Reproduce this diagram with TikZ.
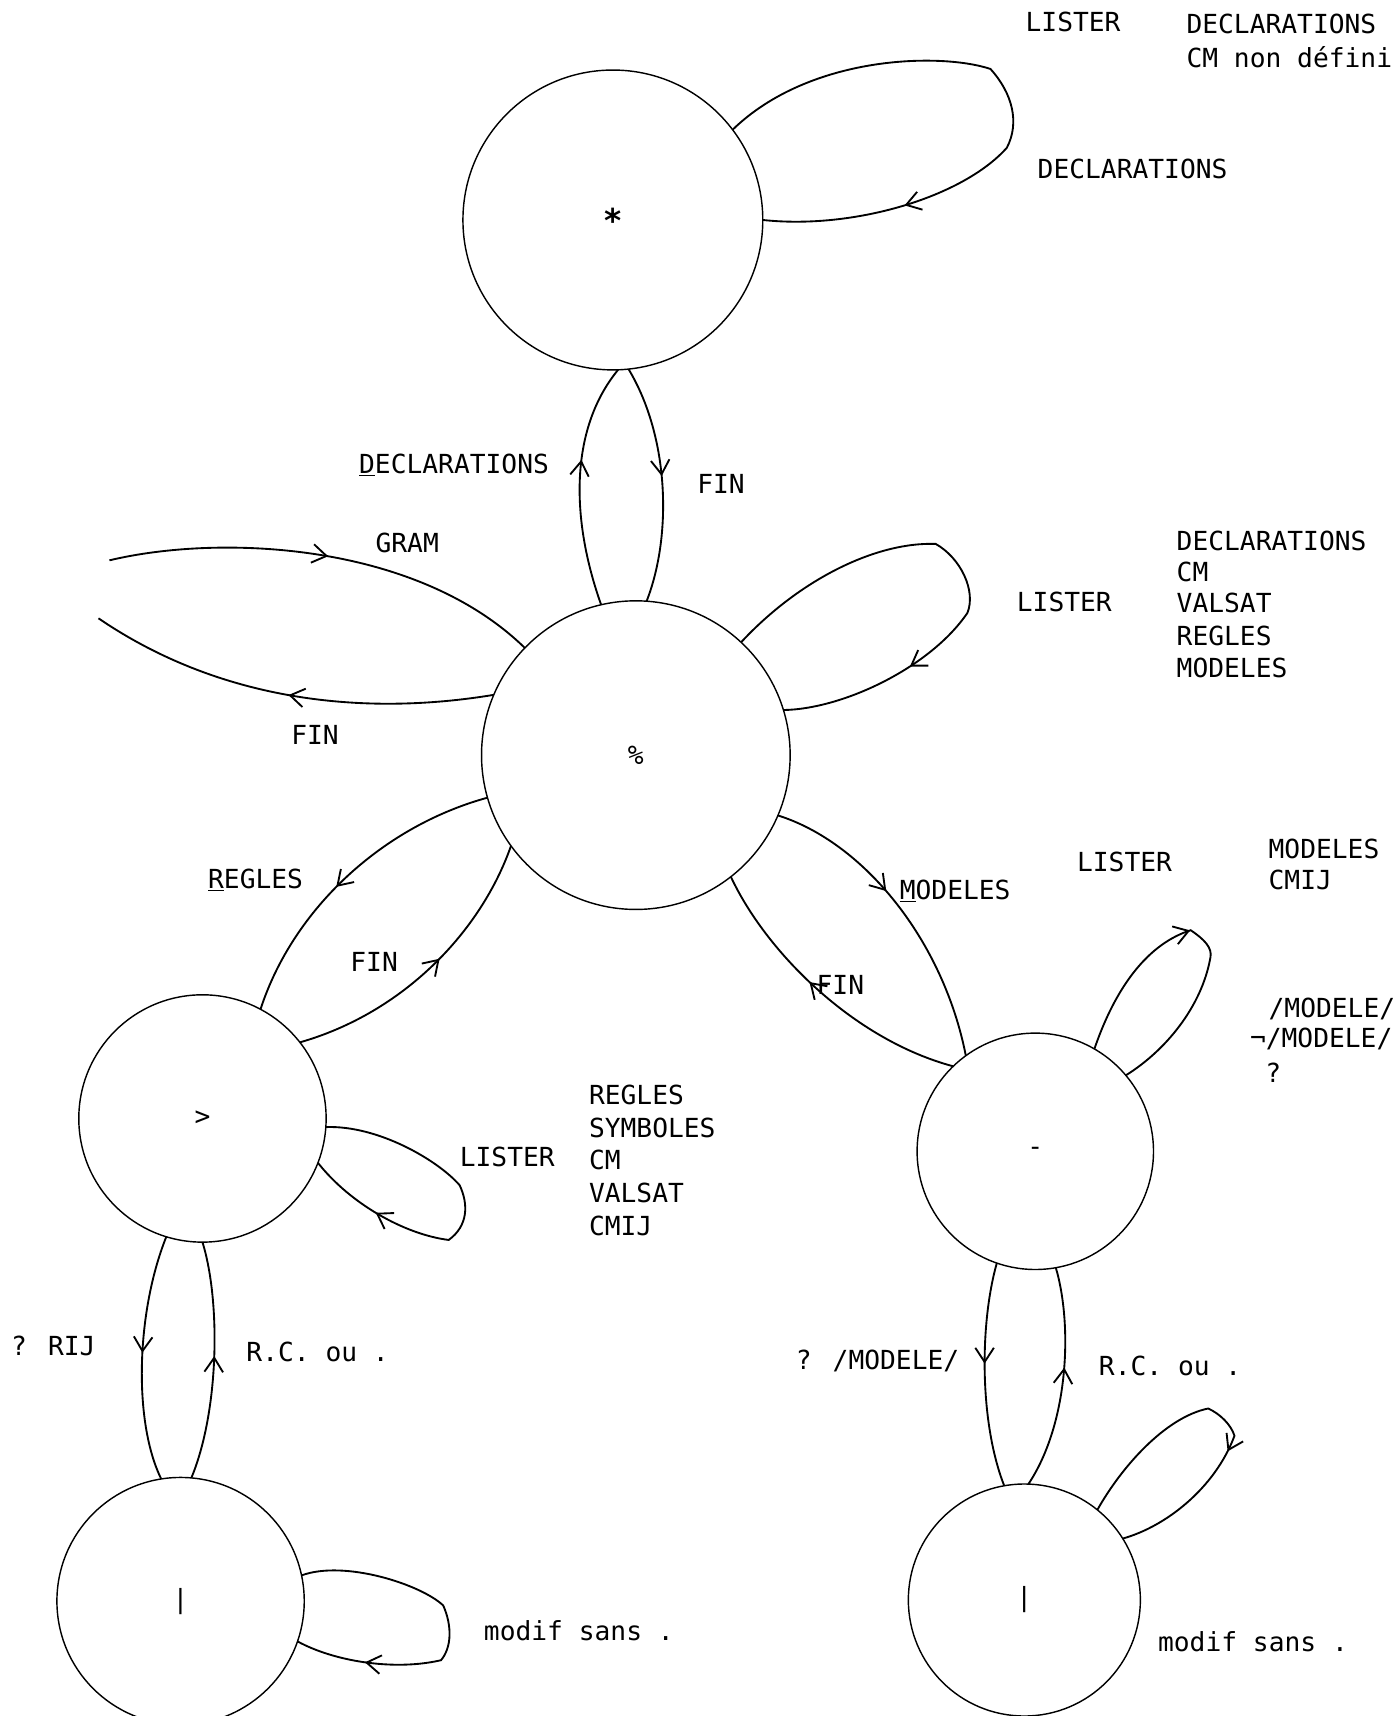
\documentclass[tikz,border=0pt]{standalone}
\usepackage{fontspec}
\newfontfamily\printfont{DejaVu Sans Mono}
\usetikzlibrary{arrows.meta,decorations.markings}

\begin{document}
\begin{tikzpicture}[x=1pt,y=-1pt,
  state/.style={circle,draw,line width=1.3pt,inner sep=0pt,outer sep=0pt,
    font=\printfont\fontsize{24}{28}\selectfont},
  lbl/.style={anchor=base west,inner sep=0pt,
    font=\printfont\fontsize{24}{28}\selectfont},
  link/.style={line width=1.7pt},
  midarrow/.style={postaction={decorate},decoration={markings,
    mark=at position #1 with {\arrow{Straight Barb[length=13pt,width=17pt,line width=1.7pt]}}}}]

% page
\fill[white] (0,0) rectangle (1274,1568);
\useasboundingbox (0,0) rectangle (1274,1568);

% states
\node[state,minimum size=274pt] (A) at (560,201) {\fontsize{30}{30}\selectfont\bfseries *};
\node[state,minimum size=282pt] (B) at (581,690) {\%};
\node[state,minimum size=226pt] (C) at (185,1022) {>};
\node[state,minimum size=216pt] (D) at (946,1052) {-};
\node[state,minimum size=226pt] (E) at (165,1463) {|};
\node[state,minimum size=212pt] (F) at (936,1462) {|};

% free ends of the GRAM / FIN pair
\coordinate (g0) at (100,512);
\coordinate (f0) at (90,565);

% state * : self loop
\draw[link,midarrow=0.77] (A.37) .. controls (740,50) and (860,48) .. (905,63)
  .. controls (925,85) and (932,112) .. (920,135)
  .. controls (880,180) and (780,210) .. (A.0);

% * <-> %
\draw[link,midarrow=0.6] (B.103) .. controls (520,470) and (522,390) .. (A.-88);
\draw[link,midarrow=0.47] (A.-84) .. controls (612,400) and (614,490) .. (B.86);

% GRAM / FIN
\draw[link,midarrow=0.5] (g0) .. controls (200,488) and (380,495) .. (B.136);
\draw[link,midarrow=0.5] (B.157) .. controls (330,655) and (200,640) .. (f0);

% state % : self loop
\draw[link,midarrow=0.74] (B.47) .. controls (730,530) and (800,495) .. (855,497)
  .. controls (878,510) and (892,540) .. (884,560)
  .. controls (850,610) and (770,648) .. (B.17);

% % <-> >
\draw[link,midarrow=0.55] (B.-164) .. controls (350,755) and (268,830) .. (C.62);
\draw[link,midarrow=0.55] (C.38) .. controls (370,925) and (440,850) .. (B.-144);

% % <-> -
\draw[link,midarrow=0.42] (B.-23) .. controls (790,770) and (862,860) .. (D.126);
\draw[link,midarrow=0.56] (D.134) .. controls (780,950) and (700,870) .. (B.-52);

% state - : self loop
\draw[link,midarrow=0.46] (D.60) .. controls (1020,900) and (1050,862) .. (1088,850)
  .. controls (1100,858) and (1108,866) .. (1106,875)
  .. controls (1098,920) and (1065,960) .. (D.40);

% state > : self loop
\draw[link,midarrow=0.79] (C.-4) .. controls (345,1028) and (400,1060) .. (420,1083)
  .. controls (428,1100) and (428,1120) .. (410,1133)
  .. controls (370,1128) and (320,1100) .. (C.-21);

% > <-> |
\draw[link,midarrow=0.48] (C.-107) .. controls (124,1200) and (122,1300) .. (E.99);
\draw[link,midarrow=0.52] (E.85) .. controls (200,1290) and (202,1190) .. (C.-90);

% state | (left) : self loop
\draw[link,midarrow=0.8] (E.12) .. controls (315,1425) and (385,1448) .. (405,1467)
  .. controls (413,1485) and (413,1505) .. (403,1517)
  .. controls (360,1527) and (305,1518) .. (E.-19);

% - <-> |
\draw[link,midarrow=0.45] (D.-109) .. controls (895,1210) and (895,1300) .. (F.100);
\draw[link,midarrow=0.55] (F.88) .. controls (977,1300) and (980,1210) .. (D.-80);

% state | (right) : self loop
\draw[link,midarrow=0.6] (F.51) .. controls (1025,1340) and (1065,1295) .. (1104,1287)
  .. controls (1115,1292) and (1125,1302) .. (1128,1312)
  .. controls (1110,1360) and (1065,1395) .. (F.32);

% labels
\node[lbl] (l1) at (937,29) {LISTER};
\node[lbl] (l2) at (1084,31) {DECLARATIONS};
\node[lbl] (l3) at (1084,62) {CM non défini};
\node[lbl] (l4) at (948,163) {DECLARATIONS};

\node[lbl] (l5) at (328,433) {\underline{D}ECLARATIONS};
\node[lbl] (l6) at (637,451) {FIN};
\node[lbl] (l7) at (343,505) {GRAM};
\node[lbl] (l8) at (266,680) {FIN};

\node[lbl] (l9) at (929,559) {LISTER};
\node[lbl] (l10) at (1075,503) {DECLARATIONS};
\node[lbl] (l11) at (1075,531) {CM};
\node[lbl] (l12) at (1075,560) {VALSAT};
\node[lbl] (l13) at (1075,590) {REGLES};
\node[lbl] (l14) at (1075,619) {MODELES};

\node[lbl] (l15) at (190,812) {\underline{R}EGLES};
\node[lbl] (l16) at (320,888) {FIN};
\node[lbl] (l17) at (822,822) {\underline{M}ODELES};
\node[lbl] (l18) at (746,909) {FIN};

\node[lbl] (l19) at (984,796) {LISTER};
\node[lbl] (l20) at (1159,784) {MODELES};
\node[lbl] (l21) at (1159,813) {CMIJ};
\node[lbl] (l22) at (1159,930) {/MODELE/};
\node[lbl] (l23) at (1142,957) {¬/MODELE/};
\node[lbl] (l24) at (1156,989) {?};

\node[lbl] (l25) at (420,1066) {LISTER};
\node[lbl] (l26) at (538,1009) {REGLES};
\node[lbl] (l27) at (538,1039) {SYMBOLES};
\node[lbl] (l28) at (538,1069) {CM};
\node[lbl] (l29) at (538,1099) {VALSAT};
\node[lbl] (l30) at (538,1129) {CMIJ};

\node[lbl] (l31) at (10,1239) {? RIJ};
\node[lbl] (l32) at (225,1244) {R.C. ou .};
\node[lbl] (l33) at (727,1251) {? /MODELE/};
\node[lbl] (l34) at (1004,1257) {R.C. ou .};

\node[lbl] (l35) at (442,1499) {modif sans .};
\node[lbl] (l36) at (1058,1509) {modif sans .};
\end{tikzpicture}
\end{document}
